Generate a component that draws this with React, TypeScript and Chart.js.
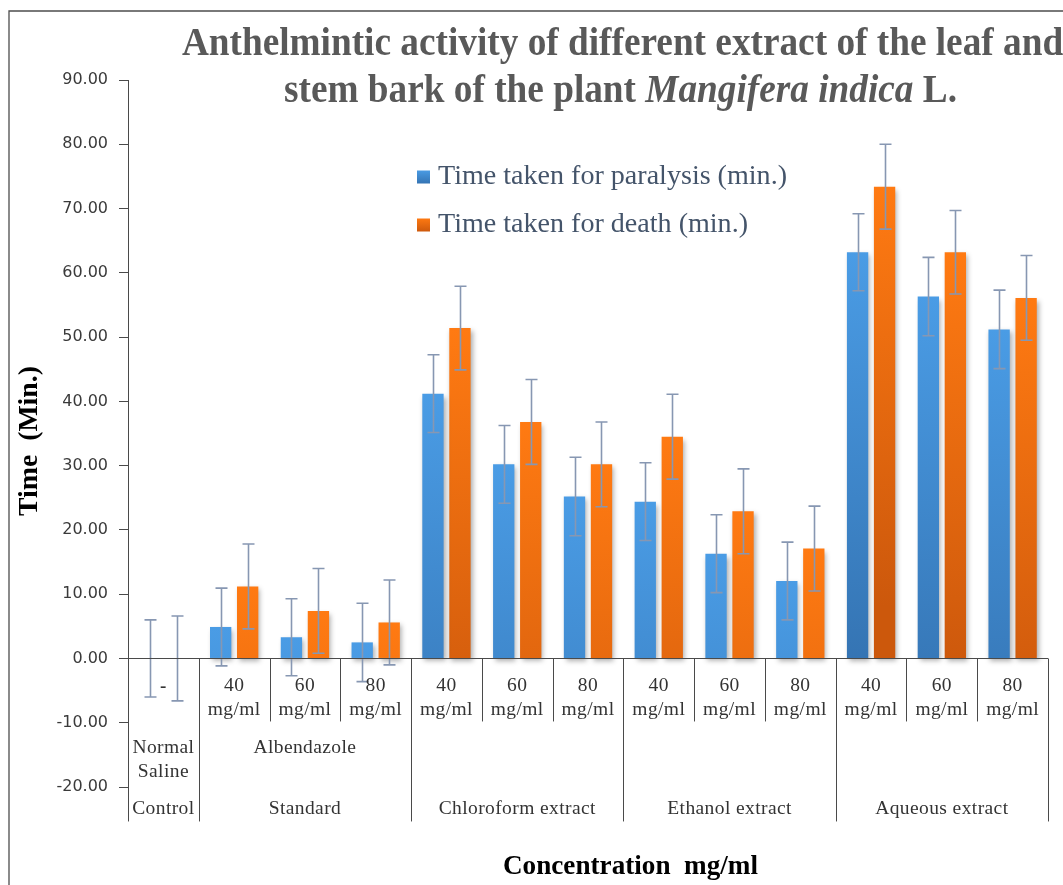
import React, { useEffect, useRef } from "react";
import { Chart, registerables } from "chart.js";

Chart.register(...registerables);

// ---------- data ----------
const categories = [
  "-", "40 mg/ml", "60 mg/ml", "80 mg/ml",
  "40 mg/ml", "60 mg/ml", "80 mg/ml",
  "40 mg/ml", "60 mg/ml", "80 mg/ml",
  "40 mg/ml", "60 mg/ml", "80 mg/ml",
];
const groupNames = ["Control", "Standard", "Chloroform extract", "Ethanol extract", "Aqueous extract"];
const groupSubNames = [["Normal", "Saline"], ["Albendazole"], [], [], []];
const groupSizes = [1, 3, 3, 3, 3];

const seriesNames = ["Time taken for paralysis (min.)", "Time taken for death (min.)"];
const paralysis = [0, 4.9, 3.3, 2.5, 41.2, 30.2, 25.2, 24.4, 16.3, 12.05, 63.2, 56.3, 51.2];
const paralysisErr = [6.0, 6.05, 6.0, 6.1, 6.05, 6.05, 6.1, 6.05, 6.05, 6.05, 6.0, 6.1, 6.1];
const death = [0, 11.2, 7.4, 5.6, 51.4, 36.8, 30.2, 34.5, 22.9, 17.1, 73.4, 63.2, 56.1];
const deathErr = [6.6, 6.6, 6.6, 6.6, 6.5, 6.6, 6.6, 6.6, 6.6, 6.6, 6.6, 6.5, 6.6];

const yMin = -20;
const yMax = 90;
const yStep = 10;

const titleLine1 = "Anthelmintic activity of different extract of the leaf and";
const titleLine2 = [
  { t: "stem bark of the plant ", italic: false },
  { t: "Mangifera indica", italic: true },
  { t: " L.", italic: false },
];
const yTitle = "Time  (Min.)";
const xTitle = "Concentration  mg/ml";

// ---------- styles ----------
const BLUE_LIGHT = "#4A9CE5";
const BLUE_DARK = "#3473B2";
const ORANGE_LIGHT = "#FF7A12";
const ORANGE_DARK = "#CC580C";
const ERR_COLOR = "#8797B2";
const AXIS_COLOR = "#4a4a4a";
const LABEL_COLOR = "#333333";
const SERIF = '"Liberation Serif", "Times New Roman", serif';

function gradientFor(light: string, dark: string) {
  return (ctx: any) => {
    const chart = ctx.chart;
    const ys = chart.scales && chart.scales.y;
    if (!ys || ctx.type !== "data") return light;
    const v = ctx.parsed ? ctx.parsed.y : ctx.raw;
    const top = ys.getPixelForValue(v);
    if (!isFinite(top)) return light;
    const g = chart.ctx.createLinearGradient(0, top, 0, top + 420);
    g.addColorStop(0, light);
    g.addColorStop(1, dark);
    return g;
  };
}

function drawScaled(c: CanvasRenderingContext2D, text: string, x: number, y: number, font: string, color: string, sx: number, align: CanvasTextAlign = "center") {
  c.save();
  c.font = font;
  c.fillStyle = color;
  c.textBaseline = "middle";
  c.textAlign = align;
  c.translate(x, y);
  c.scale(sx, 1);
  c.fillText(text, 0, 0);
  c.restore();
}

const shadowPlugin = {
  id: "barShadow",
  beforeDatasetsDraw(chart: any) {
    const c = chart.ctx;
    c.save();
    c.shadowColor = "rgba(0,0,0,0.32)";
    c.shadowBlur = 5;
    c.shadowOffsetX = 2;
    c.shadowOffsetY = 3;
  },
  afterDatasetsDraw(chart: any) {
    const c = chart.ctx;
    c.restore();
    const ys = chart.scales.y;
    const errs = [paralysisErr, deathErr];
    chart.data.datasets.forEach((ds: any, di: number) => {
      const meta = chart.getDatasetMeta(di);
      meta.data.forEach((el: any, j: number) => {
        const v = ds.data[j];
        const e = errs[di][j];
        const yt = ys.getPixelForValue(v + e);
        const yb = ys.getPixelForValue(v - e);
        const x = Math.round(el.x) + 0.5;
        c.save();
        c.strokeStyle = ERR_COLOR;
        c.lineWidth = 1.6;
        c.beginPath();
        c.moveTo(x, yt);
        c.lineTo(x, yb);
        c.moveTo(x - 6, yt);
        c.lineTo(x + 6, yt);
        c.moveTo(x - 6, yb);
        c.lineTo(x + 6, yb);
        c.stroke();
        c.restore();
      });
    });
  },
};

const decorPlugin = {
  id: "decor",
  afterDraw(chart: any) {
    const c: CanvasRenderingContext2D = chart.ctx;
    const xs = chart.scales.x;
    const ys = chart.scales.y;
    const area = chart.chartArea;
    const y0 = ys.getPixelForValue(0);
    const n = categories.length;

    // outer border
    c.save();
    c.strokeStyle = "#4d4d4d";
    c.lineWidth = 1.3;
    c.beginPath();
    c.moveTo(9, 890);
    c.lineTo(9, 11);
    c.lineTo(1070, 11);
    c.stroke();
    c.restore();

    // x axis line at 0
    c.save();
    c.strokeStyle = AXIS_COLOR;
    c.lineWidth = 1;
    c.beginPath();
    c.moveTo(area.left - 8, Math.round(y0) + 0.5);
    c.lineTo(area.right, Math.round(y0) + 0.5);
    c.stroke();

    // boundaries
    const bounds: number[] = [];
    for (let i = 0; i <= n; i++) {
      if (i === 0) bounds.push(area.left);
      else if (i === n) bounds.push(area.right);
      else bounds.push((xs.getPixelForValue(i - 1) + xs.getPixelForValue(i)) / 2);
    }
    const groupEdges = new Set<number>();
    let acc = 0;
    groupEdges.add(0);
    groupSizes.forEach((s) => { acc += s; groupEdges.add(acc); });

    for (let i = 0; i <= n; i++) {
      const bx = Math.round(bounds[i]) + 0.5;
      const len = groupEdges.has(i) ? 163 : 63;
      c.beginPath();
      c.moveTo(bx, y0);
      c.lineTo(bx, y0 + len);
      c.stroke();
    }
    c.restore();

    // inner labels
    const catFont = `19.5px ${SERIF}`;
    c.save();
    (c as any).letterSpacing = "0.4px";
    categories.forEach((lab, i) => {
      const cx = xs.getPixelForValue(i);
      const parts = lab.split(" ");
      if (parts.length === 1) {
        drawScaled(c, parts[0], cx, y0 + 29, `bold 19px ${SERIF}`, LABEL_COLOR, 1);
      } else {
        drawScaled(c, parts[0], cx, y0 + 27, catFont, LABEL_COLOR, 1);
        drawScaled(c, parts[1], cx, y0 + 51, catFont, LABEL_COLOR, 1);
      }
    });

    // group labels
    let start = 0;
    groupSizes.forEach((s, gi) => {
      const gx = (bounds[start] + bounds[start + s]) / 2;
      const subs = groupSubNames[gi];
      subs.forEach((t, k) => {
        drawScaled(c, t, gx, y0 + 89 + k * 24, catFont, LABEL_COLOR, 1);
      });
      drawScaled(c, groupNames[gi], gx, y0 + 150, catFont, LABEL_COLOR, 1);
      start += s;
    });
    c.restore();

    // title
    const tFont = `bold 40px ${SERIF}`;
    const tFontI = `bold italic 40px ${SERIF}`;
    c.save();
    let w2 = 0;
    titleLine2.forEach((seg) => {
      c.font = seg.italic ? tFontI : tFont;
      w2 += c.measureText(seg.t).width;
    });
    const target2 = 673;
    const s2 = target2 / w2;
    const tcx = 620.5;
    let px = tcx - target2 / 2;
    titleLine2.forEach((seg) => {
      const f = seg.italic ? tFontI : tFont;
      c.font = f;
      const w = c.measureText(seg.t).width;
      drawScaled(c, seg.t, px, 92, f, "#595959", s2, "left");
      px += w * s2;
    });
    drawScaled(c, titleLine1, tcx + 2, 45, tFont, "#595959", s2, "center");
    c.restore();

    // legend
    const lFont = `28px ${SERIF}`;
    c.save();
    c.font = lFont;
    const lw = c.measureText(seriesNames[0]).width;
    const ls = 349 / lw;
    const rows = [177, 225];
    const cols = [[BLUE_LIGHT, BLUE_DARK], [ORANGE_LIGHT, ORANGE_DARK]];
    rows.forEach((ry, k) => {
      const g = c.createLinearGradient(0, ry - 7, 0, ry + 7);
      g.addColorStop(0, cols[k][0]);
      g.addColorStop(1, cols[k][1]);
      c.fillStyle = g;
      c.fillRect(417, ry - 6.5, 13, 13);
      drawScaled(c, seriesNames[k], 438, ry, lFont, "#44546A", ls, "left");
    });
    c.restore();

    // axis titles
    const aFont = `bold 27px ${SERIF}`;
    c.save();
    c.font = aFont;
    const yw = c.measureText(yTitle).width;
    c.translate(30, 441);
    c.rotate(-Math.PI / 2);
    c.scale(150 / yw, 1);
    c.fillStyle = "#000";
    c.textAlign = "center";
    c.textBaseline = "middle";
    c.fillText(yTitle, 0, 0);
    c.restore();

    c.save();
    c.font = aFont;
    const xw = c.measureText(xTitle).width;
    drawScaled(c, xTitle, 630.5, 867, aFont, "#000", 255 / xw, "center");
    c.restore();
  },
};

export default function App() {
  const ref = useRef<HTMLCanvasElement>(null);
  useEffect(() => {
    if (!ref.current) return;
    const chart = new Chart(ref.current, {
      type: "bar",
      data: {
        labels: categories,
        datasets: [
          {
            label: seriesNames[0],
            data: paralysis,
            backgroundColor: gradientFor(BLUE_LIGHT, BLUE_DARK),
            borderWidth: 0,
          },
          {
            label: seriesNames[1],
            data: death,
            backgroundColor: gradientFor(ORANGE_LIGHT, ORANGE_DARK),
            borderWidth: 0,
          },
        ],
      },
      options: {
        responsive: false,
        maintainAspectRatio: false,
        devicePixelRatio: 1,
        animation: false,
        layout: { padding: { left: 0, right: 15, top: 80, bottom: 98 } },
        datasets: { bar: { categoryPercentage: 0.763, barPercentage: 0.79 } },
        plugins: {
          legend: { display: false },
          title: { display: false },
          tooltip: { enabled: false },
        },
        scales: {
          x: { display: false },
          y: {
            min: yMin,
            max: yMax,
            afterFit: (scale: any) => { scale.width = 128; },
            ticks: {
              stepSize: yStep,
              callback: (v: any) => Number(v).toFixed(2),
              font: { family: '"DejaVu Sans", Verdana, sans-serif', size: 16 },
              color: "#3a3a3a",
              padding: 11,
            },
            grid: { drawOnChartArea: false, drawTicks: true, tickLength: 9, color: AXIS_COLOR },
            border: { display: true, color: AXIS_COLOR, width: 1 },
          },
        },
      },
      plugins: [shadowPlugin, decorPlugin],
    } as any);
    return () => chart.destroy();
  }, []);
  return (
    <div style={{ position: "absolute", left: 0, top: 0, width: 1063, height: 885, background: "#fff", overflow: "hidden" }}>
      <canvas ref={ref} width={1063} height={885} style={{ display: "block" }} />
    </div>
  );
}
